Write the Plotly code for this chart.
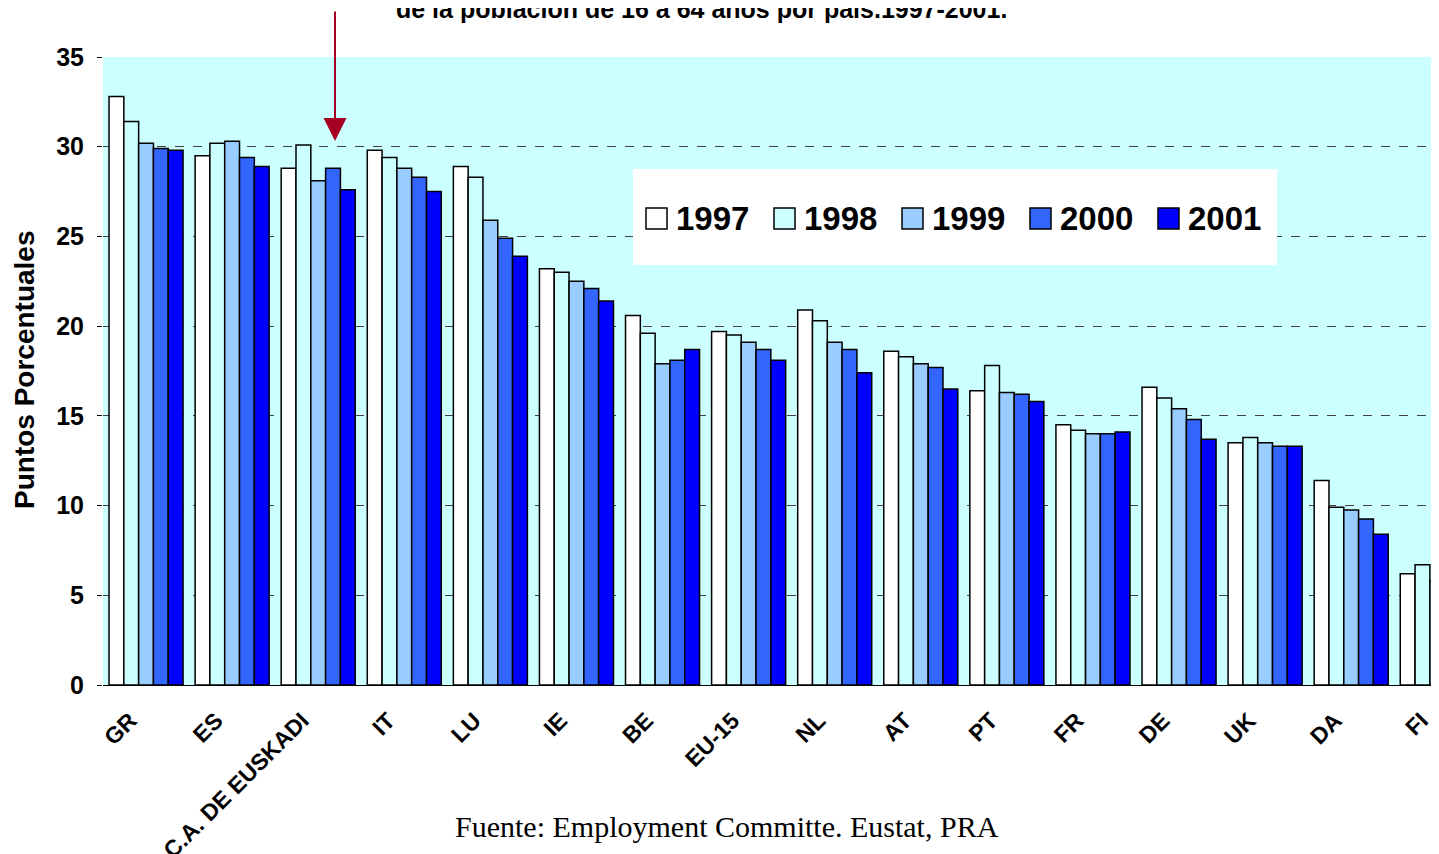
import plotly.graph_objects as go

paises = ['GR', 'ES', 'C.A. DE EUSKADI', 'IT', 'LU', 'IE', 'BE', 'EU-15',
          'NL', 'AT', 'PT', 'FR', 'DE', 'UK', 'DA', 'FI']
anios = ['1997', '1998', '1999', '2000', '2001']

v1997 = [32.8, 29.5, 28.8, 29.8, 28.9, 23.2, 20.6, 19.7, 20.9, 18.6, 16.4, 14.5, 16.6, 13.5, 11.4, 6.2]
v1998 = [31.4, 30.2, 30.1, 29.4, 28.3, 23.0, 19.6, 19.5, 20.3, 18.3, 17.8, 14.2, 16.0, 13.8, 9.9, 6.7]
v1999 = [30.2, 30.3, 28.1, 28.8, 25.9, 22.5, 17.9, 19.1, 19.1, 17.9, 16.3, 14.0, 15.4, 13.5, 9.75, 5.8]
v2000 = [29.9, 29.4, 28.8, 28.3, 24.9, 22.1, 18.1, 18.7, 18.7, 17.7, 16.2, 14.0, 14.8, 13.3, 9.25, None]
v2001 = [29.8, 28.9, 27.6, 27.5, 23.9, 21.4, 18.7, 18.1, 17.4, 16.5, 15.8, 14.1, 13.7, 13.3, 8.4, None]

series = [v1997, v1998, v1999, v2000, v2001]
colores = ['#ffffff', '#ccffff', '#99ccff', '#3366ff', '#0000ff']
yticks = [0, 5, 10, 15, 20, 25, 30, 35]

# la página deja 8 px de margen, así que la figura se reduce y se desplaza
OFF = 8
W, H = 1439 - OFF, 854 - OFF
L, T = 103 - OFF, 57 - OFF
BOTTOM = 685  # borde inferior del área de trazado (coordenadas de pantalla)
B = H - (BOTTOM - OFF)
PW, PH = W - L, (BOTTOM - OFF) - T


def px(x):
    return (x - OFF - L) / PW


def py(y):
    return (BOTTOM - y) / PH


fig = go.Figure()
for anio, vals, col in zip(anios, series, colores):
    fig.add_trace(go.Bar(
        x=list(range(len(paises))), y=vals, name=anio,
        marker=dict(color=col, line=dict(color='black', width=1.5)),
    ))

fig.update_layout(
    width=W, height=H,
    margin=dict(l=L, r=0, t=T, b=B, autoexpand=False),
    paper_bgcolor='white',
    plot_bgcolor='#ccffff',
    barmode='group', bargap=0.14, bargroupgap=0,
    font=dict(family='Liberation Sans, Arial', color='black'),
    showlegend=False,
)

fig.update_xaxes(
    tickmode='array', tickvals=list(range(len(paises))),
    ticktext=['<b>%s</b>' % p for p in paises],
    tickangle=-45, tickfont=dict(size=23),
    ticklabelshift=-16, ticklabelstandoff=12,
    range=[-0.5, 15.02], showgrid=False, automargin=False,
    showline=True, linecolor='black', linewidth=1, ticks='',
)
fig.update_yaxes(
    range=[0, 35], tickvals=yticks,
    ticktext=['<b>%d</b>' % v for v in yticks],
    tickfont=dict(size=25), ticks='outside', ticklen=5, tickcolor='black',
    ticklabelstandoff=8,
    showgrid=True, gridcolor='#404040', griddash='dash', gridwidth=1,
    zeroline=False, showline=False, automargin=False,
)

# título del eje y
fig.add_annotation(
    xref='paper', yref='paper', x=px(25), y=py(370),
    text='<b>Puntos Porcentuales</b>', textangle=-90, showarrow=False,
    xanchor='center', yanchor='middle', font=dict(size=28),
)

# leyenda dibujada a mano (caja blanca, cuadros y textos)
fig.add_shape(type='rect', xref='paper', yref='paper',
              x0=px(633), x1=px(1277), y0=py(265), y1=py(169),
              fillcolor='white', line=dict(width=0), layer='above')
for i, (anio, col) in enumerate(zip(anios, colores)):
    x0 = 646 + i * 128
    fig.add_shape(type='rect', xref='paper', yref='paper',
                  x0=px(x0), x1=px(x0 + 21), y0=py(229), y1=py(208),
                  fillcolor=col, line=dict(color='black', width=1.5), layer='above')
    fig.add_annotation(
        xref='paper', yref='paper', x=px(x0 + 28), y=py(218),
        xanchor='left', yanchor='middle', showarrow=False,
        text='<b>%s</b>' % anio, font=dict(size=33),
    )

# título (cortado arriba)
fig.add_annotation(
    xref='paper', yref='paper', x=px(701), y=py(25),
    xanchor='center', yanchor='bottom', showarrow=False,
    text='<b>de la población de 16 a 64 años por país.1997-2001.</b>',
    font=dict(size=25),
)

# flecha roja hacia Euskadi
fig.add_annotation(
    xref='paper', yref='paper', x=px(335), y=py(141),
    ax=0, ay=-131, showarrow=True, arrowhead=2, arrowsize=2.3,
    arrowwidth=2, arrowcolor='#a50021', text='',
)

# fuente
fig.add_annotation(
    xref='paper', yref='paper', x=px(727), y=py(826),
    xanchor='center', yanchor='middle', showarrow=False,
    text='Fuente: Employment Committe. Eustat, PRA',
    font=dict(size=30, family='Liberation Serif, Times New Roman'),
)

fig.write_html('out.html')
